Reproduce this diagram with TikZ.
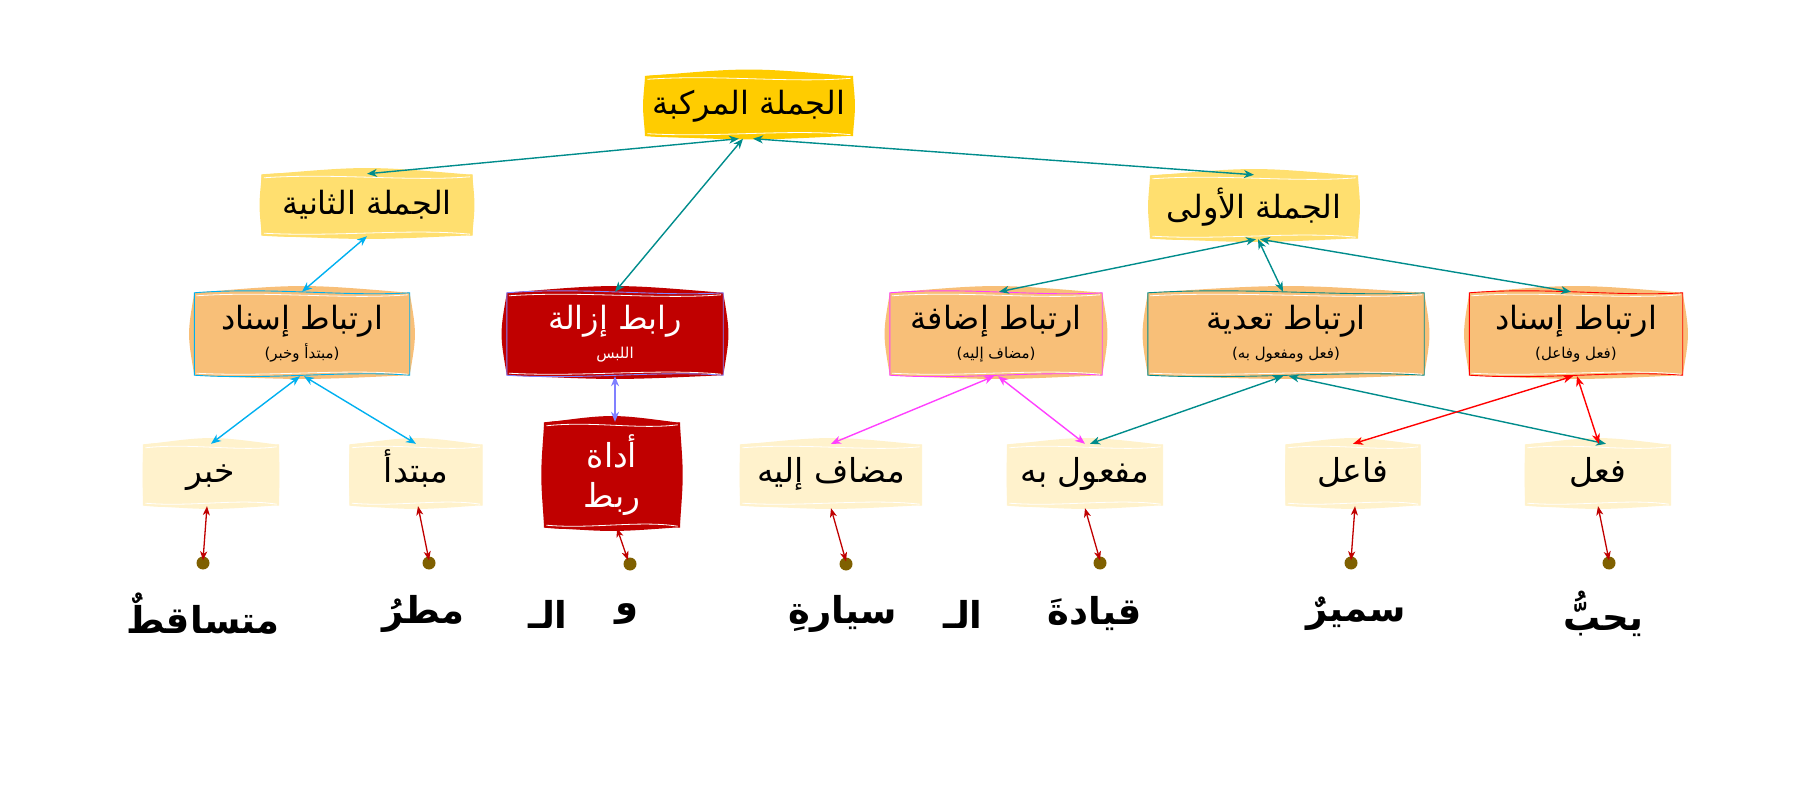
\documentclass[tikz,border=0pt]{standalone}
\usepackage{fontspec}
\TeXXeTstate=1
\newfontfamily\arabicfont[Script=Arabic]{DejaVu Sans}
\usetikzlibrary{arrows.meta,calc,backgrounds}
\definecolor{cgold}{HTML}{FFCC00}
\definecolor{cyel}{HTML}{FFDF6F}
\definecolor{corange}{HTML}{F8BF78}
\definecolor{ccream}{HTML}{FFF2CC}
\definecolor{cdark}{HTML}{C00000}
\definecolor{cteal}{HTML}{008C8C}
\definecolor{ccyan}{HTML}{00B0F0}
\definecolor{cmag}{HTML}{FF40FF}
\definecolor{cred}{HTML}{FF0000}
\definecolor{cperi}{HTML}{8080FF}
\definecolor{cdot}{HTML}{7F6000}
\newcommand\sublbl[1]{{\fontsize{15}{18}\selectfont)\beginR #1\endR(}}
% #1 node, #2 fill, #3 border, #4 side bulge
\newcommand\wavebg[4]{%
  \begin{pgfonlayer}{background}
  \path[fill=#2]
   (#1.north west) .. controls ($(#1.north west)!0.5!(#1.north east)+(0,-9)$) .. (#1.north east)
   .. controls ($(#1.north east)!0.5!(#1.south east)+(#4,0)$) .. (#1.south east)
   .. controls ($(#1.south east)!0.5!(#1.south west)+(0,5)$) .. (#1.south west)
   .. controls ($(#1.south west)!0.5!(#1.north west)+(-#4,0)$) .. (#1.north west) -- cycle;
  \path[fill=#2,draw=#3,line width=0.9pt]
   (#1.north west) .. controls ($(#1.north west)!0.35!(#1.north east)+(0,-6)$) and ($(#1.north west)!0.7!(#1.north east)+(0,4)$) .. (#1.north east)
   -- (#1.south east) .. controls ($(#1.south east)!0.3!(#1.south west)+(0,-5)$) and ($(#1.south east)!0.65!(#1.south west)+(0,5)$) .. (#1.south west) -- cycle;
  \path[draw=white,line width=0.8pt]
   ($(#1.north west)+(2,3)$) .. controls ($(#1.north west)!0.35!(#1.north east)+(0,-2)$) and ($(#1.north west)!0.7!(#1.north east)+(0,7)$) .. ($(#1.north east)+(-2,2)$);
  \path[draw=white,line width=0.8pt]
   ($(#1.south east)+(-2,-1)$) .. controls ($(#1.south east)!0.3!(#1.south west)+(0,-7)$) and ($(#1.south east)!0.65!(#1.south west)+(0,2)$) .. ($(#1.south west)+(2,-2)$);
  \end{pgfonlayer}}
\tikzset{
  lbl/.style={inner sep=0pt,align=center,text=black},
  big/.style={lbl,font=\arabicfont\fontsize{32}{38}\selectfont},
  mid/.style={lbl,font=\arabicfont\fontsize{32}{36}\selectfont},
  leaf/.style={lbl,font=\arabicfont\fontsize{33}{40}\selectfont,minimum height=60pt},
  leaf1/.style={leaf,text height=22pt,text depth=8pt},
  word/.style={inner sep=0pt,font=\arabicfont\bfseries\fontsize{37}{44}\selectfont},
  dotn/.style={circle,fill=cdot,inner sep=0pt,minimum width=12pt,minimum height=13pt},
  link/.style={{Stealth[length=10pt,width=8pt,inset=3pt]}-{Stealth[length=10pt,width=8pt,inset=3pt]},line width=1.4pt},
  leg/.style={{Stealth[length=9pt,width=7pt,inset=2.5pt]}-{Stealth[length=9pt,width=7pt,inset=2.5pt]},line width=1.3pt,draw=cdark}
}
\begin{document}
\begin{tikzpicture}[x=1pt,y=-1pt]
\useasboundingbox (0,0) rectangle (1800,810);
% level 1
\node[big,minimum width=207pt,minimum height=59pt] (top) at (749,106) {\beginR الجملة المركبة\endR};
% level 2
\node[big,minimum width=210pt,minimum height=60pt] (th) at (367,205) {\beginR الجملة الثانية\endR};
\node[big,minimum width=207pt,minimum height=62pt] (fi) at (1254,207) {\beginR الجملة الأولى\endR};
% level 3
\node[mid,minimum width=215pt,minimum height=82pt] (isL) at (302,334) {\beginR ارتباط إسناد\endR\\[-7pt]\sublbl{مبتدأ وخبر}};
\node[mid,text=white,minimum width=216pt,minimum height=82pt] (rz) at (615,334) {\beginR رابط إزالة\endR\\[-7pt]{\fontsize{15}{18}\selectfont\beginR اللبس\endR}};
\node[mid,minimum width=212pt,minimum height=82pt] (id) at (996,334) {\beginR ارتباط إضافة\endR\\[-7pt]\sublbl{مضاف إليه}};
\node[mid,minimum width=276pt,minimum height=82pt] (td) at (1286,334) {\beginR ارتباط تعدية\endR\\[-7pt]\sublbl{فعل ومفعول به}};
\node[mid,minimum width=213pt,minimum height=82pt] (isR) at (1576,334) {\beginR ارتباط إسناد\endR\\[-7pt]\sublbl{فعل وفاعل}};
% leaves
\node[leaf1,minimum width=135pt] (kh) at (211,475) {\beginR خبر\endR};
\node[leaf1,minimum width=132pt] (mb) at (416,475) {\beginR مبتدأ\endR};
\node[leaf,text=white,minimum width=135pt,minimum height=104pt] (ad) at (612,475) {\beginR أداة\endR\\\beginR ربط\endR};
\node[leaf1,minimum width=181pt] (md) at (831,475) {\beginR مضاف إليه\endR};
\node[leaf1,minimum width=155pt] (mf) at (1085,475) {\beginR مفعول به\endR};
\node[leaf1,minimum width=134pt] (fa) at (1353,475) {\beginR فاعل\endR};
\node[leaf1,minimum width=145pt] (fl) at (1598,475) {\beginR فعل\endR};
% backgrounds
\wavebg{top}{cgold}{cgold}{3}
\wavebg{th}{cyel}{cyel}{3}
\wavebg{fi}{cyel}{cyel}{3}
\wavebg{isL}{corange}{ccyan}{7}
\wavebg{rz}{cdark}{cperi}{7}
\wavebg{id}{corange}{cmag}{7}
\wavebg{td}{corange}{cteal}{7}
\wavebg{isR}{corange}{cred}{7}
\wavebg{kh}{ccream}{ccream}{1}
\wavebg{mb}{ccream}{ccream}{1}
\wavebg{ad}{cdark}{cdark}{4}
\wavebg{md}{ccream}{ccream}{1}
\wavebg{mf}{ccream}{ccream}{1}
\wavebg{fa}{ccream}{ccream}{1}
\wavebg{fl}{ccream}{ccream}{1}
% dots
\node[dotn] (d1) at (203,563) {};
\node[dotn] (d2) at (429,563) {};
\node[dotn] (d3) at (630,564) {};
\node[dotn] (d4) at (846,564) {};
\node[dotn] (d5) at (1100,563) {};
\node[dotn] (d6) at (1351,563) {};
\node[dotn] (d7) at (1609,563) {};
% words
\node[word] (w1) at (203,614) {\beginR متساقطٌ\endR};
\node[word] (w2) at (423,614) {\beginR مطرُ\endR};
\node[word] (w3) at (548,614) {\beginR الـ\endR};
\node[word] (w4) at (627,614) {\beginR و\endR};
\node[word] (w5) at (843,614) {\beginR سيارةِ\endR};
\node[word] (w6) at (963,614) {\beginR الـ\endR};
\node[word] (w7) at (1095,614) {\beginR قيادةَ\endR};
\node[word] (w8) at (1356,614) {\beginR سميرٌ\endR};
\node[word] (w9) at (1603,614) {\beginR يحبُّ\endR};
% connectors
\draw[link,cteal] ([xshift=-10pt,yshift=-3pt]top.south) -- ([yshift=1pt]th.north);
\draw[link,cteal] ([xshift=-6pt,yshift=-3pt]top.south) -- ([yshift=1pt]rz.north);
\draw[link,cteal] ([xshift=4pt,yshift=-3pt]top.south) -- ([yshift=1pt]fi.north);
\draw[link,ccyan] ([yshift=-1pt]th.south) -- ([yshift=1pt]isL.north);
\draw[link,cteal] ([xshift=2pt,yshift=-1pt]fi.south) -- ([xshift=3pt,yshift=1pt]id.north);
\draw[link,cteal] ([xshift=4pt,yshift=-1pt]fi.south) -- ([xshift=-3pt,yshift=1pt]td.north);
\draw[link,cteal] ([xshift=6pt,yshift=-1pt]fi.south) -- ([xshift=-5pt,yshift=1pt]isR.north);
\draw[link,ccyan] ([xshift=-2pt,yshift=-1pt]isL.south) -- ([yshift=1pt]kh.north);
\draw[link,ccyan] ([xshift=2pt,yshift=-1pt]isL.south) -- ([yshift=1pt]mb.north);
\draw[link,cperi] ([yshift=-1pt]rz.south) -- ([xshift=3pt,yshift=1pt]ad.north);
\draw[link,cmag] ([xshift=-2pt,yshift=-1pt]id.south) -- ([yshift=1pt]md.north);
\draw[link,cmag] ([xshift=2pt,yshift=-1pt]id.south) -- ([yshift=1pt]mf.north);
\draw[link,cteal] ([xshift=-3pt,yshift=-1pt]td.south) -- ([xshift=5pt,yshift=1pt]mf.north);
\draw[link,cteal] ([xshift=3pt,yshift=-1pt]td.south) -- ([xshift=8pt,yshift=1pt]fl.north);
\draw[link,cred] ([xshift=-3pt,yshift=-1pt]isR.south) -- ([yshift=1pt]fa.north);
\draw[link,cred] ([xshift=1pt,yshift=-1pt]isR.south) -- ([xshift=1pt,yshift=1pt]fl.north);
\draw[leg] ([xshift=-4pt,yshift=-1pt]kh.south) -- ([yshift=-4pt]d1.north);
\draw[leg] ([xshift=2pt,yshift=-1pt]mb.south) -- ([yshift=-4pt]d2.north);
\draw[leg] ([xshift=5pt,yshift=-1pt]ad.south) -- ([xshift=-2pt,yshift=-3pt]d3.north);
\draw[leg] ([yshift=-3pt]md.south) -- ([yshift=-4pt]d4.north);
\draw[leg] ([yshift=-3pt]mf.south) -- ([yshift=-4pt]d5.north);
\draw[leg] ([xshift=2pt,yshift=-1pt]fa.south) -- ([yshift=-4pt]d6.north);
\draw[leg] ([yshift=-1pt]fl.south) -- ([yshift=-4pt]d7.north);
\end{tikzpicture}
\end{document}
